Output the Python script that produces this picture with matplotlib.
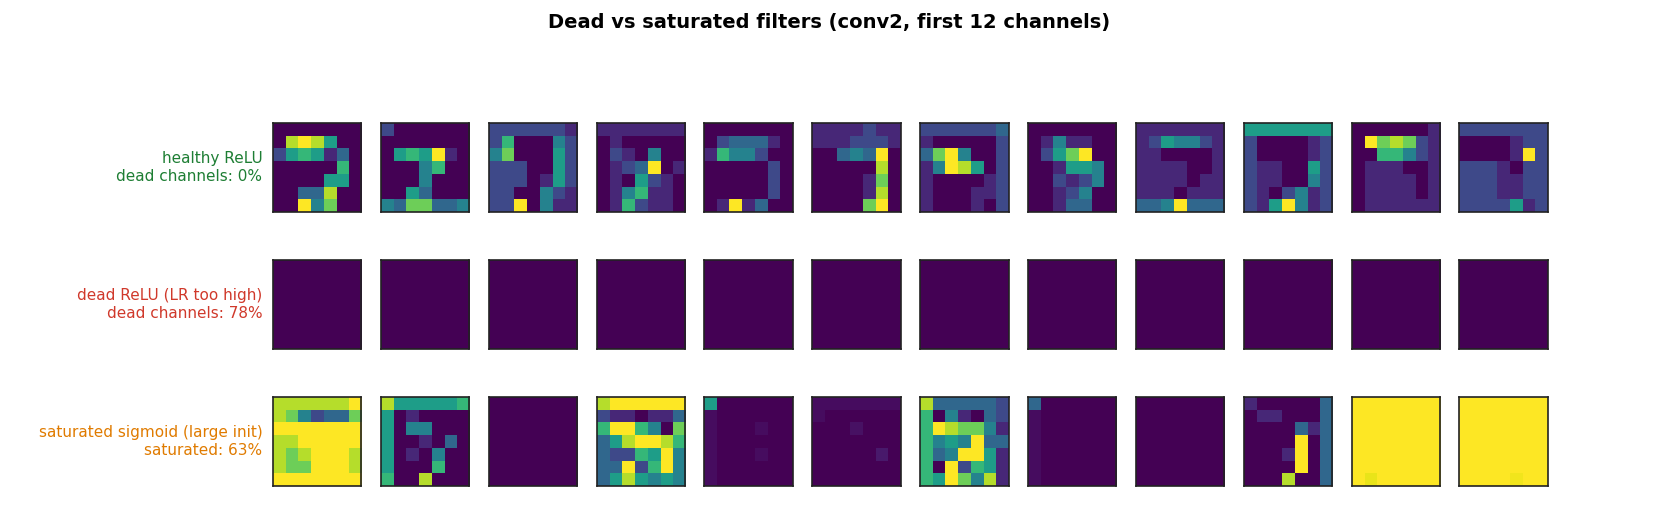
import numpy as np
import matplotlib
matplotlib.use("Agg")
import matplotlib.pyplot as plt

healthy = [
 [[0,0,0,0,0,0,0],[0,8,9,8,5,0,0],[2,5,6,5,1,3,0],[0,0,0,0,0,6,0],[0,0,0,0,5,5,0],[0,0,3,3,8,0,0],[0,0,9,4,7,0,0]],
 [[2,0,0,0,0,0,0],[0,0,0,0,0,0,0],[0,5,6,5,9,1,0],[0,0,0,4,6,0,0],[0,0,0,4,0,0,0],[0,0,5,3,0,0,0],[4,3,7,7,3,3,4]],
 [[2,2,2,2,2,2,1],[2,6,0,0,0,4,2],[4,7,0,0,0,5,2],[2,2,2,0,0,5,2],[2,2,2,0,1,5,2],[2,2,0,0,4,2,1],[2,2,9,0,4,1,1]],
 [[1,1,1,1,1,1,1],[0,1,0,0,0,0,0],[0,2,1,0,4,0,0],[0,1,2,3,9,0,1],[0,1,0,5,2,1,0],[0,1,4,6,1,1,0],[0,1,6,2,1,1,0]],
 [[0,0,0,0,0,0,0],[0,2,3,3,3,1,0],[1,6,4,4,2,0,0],[0,0,0,0,0,2,0],[0,0,0,0,0,2,0],[0,0,0,0,0,2,0],[0,1,9,1,3,0,0]],
 [[1,1,1,1,2,1,1],[1,1,1,2,2,2,1],[0,0,3,4,3,9,0],[0,0,0,0,0,8,0],[0,0,0,0,1,7,0],[0,0,0,0,1,8,0],[0,0,0,0,7,9,0]],
 [[2,2,2,2,2,2,3],[1,0,0,0,0,0,2],[3,7,9,4,0,0,2],[1,4,9,8,5,0,2],[1,0,0,0,0,1,2],[1,0,0,0,1,1,2],[1,0,0,0,1,0,2]],
 [[0,0,0,0,0,0,0],[0,1,4,1,1,0,0],[0,2,5,7,9,0,0],[0,0,1,5,5,4,0],[0,0,2,1,2,4,0],[0,0,1,2,4,0,0],[0,0,1,3,3,0,0]],
 [[1,1,1,1,1,1,1],[1,2,5,4,4,2,1],[1,1,0,0,0,0,1],[1,1,1,1,0,0,1],[1,1,1,1,0,1,1],[1,1,1,0,1,1,1],[3,3,4,9,3,3,3]],
 [[5,5,5,5,5,5,5],[2,0,0,0,0,1,2],[2,0,0,0,0,1,2],[2,1,1,0,0,5,2],[2,1,1,0,0,4,2],[2,1,0,2,4,1,2],[2,1,5,9,4,1,2]],
 [[0,0,0,0,0,0,1],[0,9,7,8,7,2,1],[0,0,6,6,4,2,1],[0,1,1,1,0,0,1],[0,1,1,1,1,0,1],[0,1,1,1,1,0,1],[0,1,1,1,1,1,1]],
 [[2,2,2,2,2,2,2],[0,0,0,0,1,2,2],[0,0,0,0,1,9,2],[2,2,2,1,0,2,2],[2,2,2,1,1,2,2],[2,2,2,1,1,2,2],[2,2,2,2,5,1,2]],
]
Z = [[0]*7 for _ in range(7)]
dead = [Z]*12
saturated = [
 [[8,8,8,8,8,8,9],[8,7,4,2,3,3,7],[9,9,9,9,9,9,9],[8,8,9,9,9,9,9],[8,7,8,9,9,9,8],[8,7,7,9,9,9,8],[9,9,9,9,9,9,9]],
 [[8,5,5,5,5,5,6],[5,0,1,0,0,0,0],[5,0,4,4,0,0,0],[5,0,0,1,0,3,0],[5,0,1,0,4,0,0],[5,0,0,0,6,0,0],[6,0,0,8,0,0,0]],
 Z,
 [[8,9,9,9,9,9,9],[2,1,1,0,1,1,3],[6,9,9,6,4,0,7],[3,5,8,9,9,8,6],[3,2,2,6,5,9,4],[3,3,9,2,6,9,4],[3,5,8,5,4,5,4]],
 [[5,0,0,0,0,0,0],[0.3,0,0,0,0,0,0],[0.3,0,0,0,0.3,0,0],[0.3,0,0,0,0,0,0],[0.3,0,0,0,0.3,0,0],[0.3,0,0,0,0,0,0],[0.3,0,0,0,0,0,0]],
 [[0.3,0.3,0.3,0.3,0.3,0.3,0.3],[0.3,0,0,0,0,0,0],[0,0,0,0.4,0,0,0],[0,0,0,0,0,0,0],[0,0,0,0,0,0.6,0],[0,0,0,0,0,0,0],[0,0,0,0,0,0,0]],
 [[8,3,3,3,3,3,2],[6,0,4,1,0,3,2],[6,9,8,7,7,4,1],[6,4,5,4,9,3,3],[6,3,4,9,9,5,1],[6,0,9,2,6,5,1],[6,5,9,7,4,8,1]],
 [[3,0,0,0,0,0,0],[0.3,0,0,0,0,0,0],[0.3,0,0,0,0,0,0],[0.3,0,0,0,0,0,0],[0.3,0,0,0,0,0,0],[0.3,0,0,0,0,0,0],[0.3,0,0,0,0,0,0]],
 Z,
 [[1,0,0,0,0,0,3],[0,1,1,0,0,0,3],[0,0,0,0,3,1,3],[0,0,0,0,9,0,3],[0,0,0,1,9,0,3],[0,0,0,0,9,0,3],[0,0,0,8,0,0,3]],
 [[9,9,9,9,9,9,9],[9,9,9,9,9,9,9],[9,9,9,9,9,9,9],[9,9,9,9,9,9,9],[9,9,9,9,9,9,9],[9,9,9,9,9,9,9],[9,8.7,9,9,9,9,9]],
 [[9]*7]*6 + [[9,9,9,9,8.8,9,9]],
]
row_labels = ["healthy ReLU\ndead channels: 0%",
              "dead ReLU (LR too high)\ndead channels: 78%",
              "saturated sigmoid (large init)\nsaturated: 63%"]
row_colors = ["#1e7e34", "#d0392b", "#e07b00"]
rows = [healthy, dead, saturated]

fig, axes = plt.subplots(3, 12, figsize=(16.59, 5.29), dpi=100)
fig.subplots_adjust(left=0.1646, right=0.933, top=0.7675, bottom=0.0813,
                    wspace=0.22, hspace=0.54)
for r, data in enumerate(rows):
    for c in range(12):
        ax = axes[r, c]
        ax.imshow(np.array(data[c], dtype=float), cmap="viridis", vmin=0, vmax=9,
                  interpolation="nearest", aspect="auto")
        ax.set_xticks([]); ax.set_yticks([])
        for s in ax.spines.values():
            s.set_linewidth(1.2)
            s.set_color("#222222")
    axes[r, 0].text(-0.12, 0.5, row_labels[r], transform=axes[r, 0].transAxes,
                    ha="right", va="center", fontsize=11, color=row_colors[r])
fig.suptitle("Dead vs saturated filters (conv2, first 12 channels)",
             fontsize=14, fontweight="bold", y=0.975)
fig.savefig("out.png", dpi=100)
